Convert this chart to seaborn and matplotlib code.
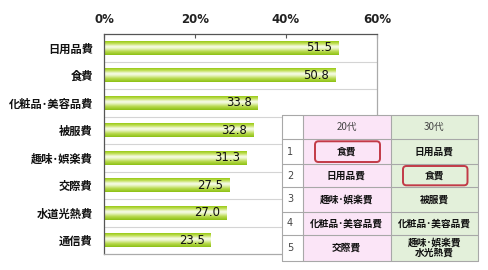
import numpy as np
import pandas as pd
import matplotlib
matplotlib.use("Agg")
import matplotlib.pyplot as plt
import seaborn as sns
from matplotlib.colors import LinearSegmentedColormap
from matplotlib.patches import Rectangle, FancyBboxPatch

categories = ["日用品費", "食費", "化粧品･美容品費", "被服費", "趣味･娯楽費", "交際費", "水道光熱費", "通信費"]
values = [51.5, 50.8, 33.8, 32.8, 31.3, 27.5, 27.0, 23.5]
xticks = [0, 20, 40, 60]
xtick_labels = ["0%", "20%", "40%", "60%"]

table_header = ["", "20代", "30代"]
table_ranks = ["1", "2", "3", "4", "5"]
table_20s = ["食費", "日用品費", "趣味･娯楽費", "化粧品･美容品費", "交際費"]
table_30s = ["日用品費", "食費", "被服費", "化粧品･美容品費", "趣味･娯楽費\n水光熱費"]
highlight = [(0, 1), (1, 2)]  # (row, col) boxed cells

sns.set_theme(style="white")
plt.rcParams['font.family'] = ['Noto Sans CJK JP', 'DejaVu Sans']

W, H = 488, 270
fig = plt.figure(figsize=(W / 100, H / 100), dpi=100)
ax = fig.add_axes([104 / W, 1 - 254 / H, (377 - 104) / W, (254 - 34) / H])

df = pd.DataFrame({"cat": categories, "val": values})
sns.barplot(data=df, y="cat", x="val", orient="h", ax=ax, width=0.5,
            color="#9acd32", saturation=1, edgecolor="none")

ax.set_xlim(0, 60)
ax.set_ylim(len(categories) - 0.5, -0.5)

# gradient fill
cmap = LinearSegmentedColormap.from_list("g", [
    (0.0, "#98c915"), (0.18, "#c2e05a"), (0.38, "#f6fbe6"), (0.5, "#eef7d0"),
    (0.75, "#b8da4c"), (1.0, "#8cc014")])
grad = np.linspace(0, 1, 64).reshape(-1, 1)
for p in list(ax.patches):
    x0, y0 = p.get_x(), p.get_y()
    w, h = p.get_width(), p.get_height()
    im = ax.imshow(grad, cmap=cmap, aspect="auto",
                   extent=[x0, x0 + w, y0 + h, y0], zorder=2, interpolation="bilinear")
    im.set_clip_path(p)
    p.set_facecolor("none")

ax.set_xlim(0, 60)
ax.set_ylim(len(categories) - 0.5, -0.5)

for i, v in enumerate(values):
    ax.text(v - 1.4, i, f"{v:.1f}", ha="right", va="center", fontsize=8.4,
            color="#111111", zorder=3, family="DejaVu Sans")

ax.xaxis.tick_top()
ax.set_xticks(xticks)
ax.set_xticklabels(xtick_labels, fontsize=8.5, fontweight="bold", color="#222222",
                   family="DejaVu Sans")
ax.tick_params(axis="x", direction="in", length=3, width=0.8, color="#555555", pad=6)
ax.set_yticks(range(len(categories)))
ax.set_yticklabels(categories, fontsize=8.1, fontweight="bold", color="#111111")
ax.tick_params(axis="y", length=0, pad=8)
ax.set_yticks(np.arange(-0.5, len(categories), 1), minor=True)
ax.tick_params(axis="y", which="minor", direction="out", length=3, color="#777777", width=0.8)
for yb in np.arange(0.5, len(categories) - 0.5, 1):
    ax.axhline(yb, color="#d4d4d4", lw=0.8, zorder=1)
ax.set_xlabel("")
ax.set_ylabel("")
for s in ["left", "top"]:
    ax.spines[s].set_color("#555555")
    ax.spines[s].set_linewidth(0.9)
for s in ["right", "bottom"]:
    ax.spines[s].set_color("#aaaaaa")
    ax.spines[s].set_linewidth(0.9)

# ranking table drawn in pixel-based overlay axes
tax = fig.add_axes([0, 0, 1, 1])
tax.set_xlim(0, W)
tax.set_ylim(H, 0)
tax.axis("off")

col_x = [282, 302.5, 390.5, 478]
row_y = [115, 139.3, 164, 187.3, 211.7, 235, 261]
bg = ["#ffffff", "#fbe5f7", "#e3f0da"]
for c in range(3):
    tax.add_patch(Rectangle((col_x[c], row_y[0]), col_x[c + 1] - col_x[c],
                            row_y[-1] - row_y[0], facecolor=bg[c], edgecolor="none", zorder=1))
border = "#a8a8a8"
for x in col_x:
    tax.plot([x, x], [row_y[0], row_y[-1]], color=border, lw=0.8, zorder=2)
for y in row_y:
    tax.plot([col_x[0], col_x[-1]], [y, y], color=border, lw=0.8, zorder=2)

def cx(c):
    return (col_x[c] + col_x[c + 1]) / 2

def cy(r):
    return (row_y[r] + row_y[r + 1]) / 2

for c, t in enumerate(table_header):
    if t:
        tax.text(cx(c), cy(0), t, ha="center", va="center", fontsize=7, color="#444444", zorder=3)
for r in range(5):
    tax.text(col_x[0] + 5, cy(r + 1), table_ranks[r], ha="left", va="center",
             fontsize=7, color="#444444", zorder=3, family="DejaVu Sans")
    tax.text(cx(1), cy(r + 1), table_20s[r], ha="center", va="center", fontsize=7,
             fontweight="bold", color="#111111", zorder=3)
    tax.text(cx(2), cy(r + 1), table_30s[r], ha="center", va="center", fontsize=7,
             fontweight="bold", color="#111111", zorder=3, linespacing=1.05)

for (r, c) in highlight:
    x0 = col_x[c] + 12.5
    x1 = col_x[c + 1] - 10.5
    y0 = row_y[r + 1] + 2
    y1 = row_y[r + 2] - 2
    tax.add_patch(FancyBboxPatch((x0, y0), x1 - x0, y1 - y0,
                                 boxstyle="round,pad=0,rounding_size=3.5",
                                 facecolor="none", edgecolor="#c23a47", lw=1.4, zorder=4))

fig.savefig("out.png", dpi=100)
